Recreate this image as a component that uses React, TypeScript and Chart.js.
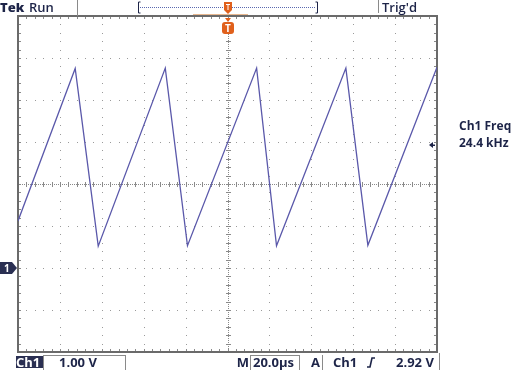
import React, { useEffect, useRef } from "react";
import { Chart, registerables } from "chart.js";

Chart.register(...registerables);

// Waveform samples (time in µs, voltage in V)
const timeUs = [-100, -72.7, -61.7, -29.7, -19.1, 13.9, 23.4, 56.5, 67, 100];
const volts = [1.12, 4.75, 0.52, 4.76, 0.53, 4.76, 0.53, 4.76, 0.54, 4.78];

// Display range: 10 horizontal divisions at 20 µs/div, 8 vertical at 1 V/div
const xRange = [-100, 100];
const yRange = [-2, 6];
const xDivisions = 10;
const yDivisions = 8;
const minorPerDiv = 5;

// Status texts
const headerLeft = ["Tek", "Run"];
const headerRight = "Trig'd";
const footerCh = "Ch1";
const footerScale = "1.00 V";
const footerTimebase = ["M", "20.0µs"];
const footerTrigger = ["A", "Ch1", "2.92 V"];
const measureLabel = ["Ch1 Freq", "24.4 kHz"];
const triggerLevel = 2.92;
const groundLevel = 0;

const TEXT = "#1d2448";
const ORANGE = "#e0601c";
const FONT = "'Open Sans', 'DejaVu Sans', sans-serif";

const scopePlugin = {
  id: "scope",
  beforeDatasetsDraw(chart: any) {
    const { ctx, chartArea, scales } = chart;
    const { left, right, top, bottom } = chartArea;
    const xs = scales.x;
    const ys = scales.y;
    const xStep = (xRange[1] - xRange[0]) / xDivisions;
    const yStep = (yRange[1] - yRange[0]) / yDivisions;
    ctx.save();
    ctx.fillStyle = "#9a9a9a";
    const xMid = (xRange[0] + xRange[1]) / 2;
    const yMid = (yRange[0] + yRange[1]) / 2;
    for (let i = 1; i < xDivisions; i++) {
      const v = xRange[0] + i * xStep;
      if (Math.abs(v - xMid) < 1e-6) continue;
      const px = Math.round(xs.getPixelForValue(v));
      for (let j = 1; j < yDivisions * minorPerDiv; j++) {
        const py = Math.round(ys.getPixelForValue(yRange[0] + (j * yStep) / minorPerDiv));
        ctx.fillRect(px, py, 1, 1);
      }
    }
    for (let i = 1; i < yDivisions; i++) {
      const v = yRange[0] + i * yStep;
      if (Math.abs(v - yMid) < 1e-6) continue;
      const py = Math.round(ys.getPixelForValue(v));
      for (let j = 1; j < xDivisions * minorPerDiv; j++) {
        const px = Math.round(xs.getPixelForValue(xRange[0] + (j * xStep) / minorPerDiv));
        ctx.fillRect(px, py, 1, 1);
      }
    }
    const cx = Math.round(xs.getPixelForValue(xMid)) + 0.5;
    const cy = Math.round(ys.getPixelForValue(yMid)) + 0.5;
    ctx.strokeStyle = "#8a8a8a";
    ctx.lineWidth = 1;
    ctx.setLineDash([1, 1]);
    ctx.beginPath();
    ctx.moveTo(left, cy);
    ctx.lineTo(right, cy);
    ctx.moveTo(cx, top);
    ctx.lineTo(cx, bottom);
    ctx.stroke();
    ctx.setLineDash([]);
    ctx.beginPath();
    for (let j = 1; j < xDivisions * minorPerDiv; j++) {
      const px = Math.round(xs.getPixelForValue(xRange[0] + (j * xStep) / minorPerDiv)) + 0.5;
      ctx.moveTo(px, cy - 2.5);
      ctx.lineTo(px, cy + 2.5);
      ctx.moveTo(px, top);
      ctx.lineTo(px, top + 3);
      ctx.moveTo(px, bottom);
      ctx.lineTo(px, bottom - 3);
    }
    for (let j = 1; j < yDivisions * minorPerDiv; j++) {
      const py = Math.round(ys.getPixelForValue(yRange[0] + (j * yStep) / minorPerDiv)) + 0.5;
      ctx.moveTo(cx - 2.5, py);
      ctx.lineTo(cx + 2.5, py);
      ctx.moveTo(left, py);
      ctx.lineTo(left + 3, py);
      ctx.moveTo(right, py);
      ctx.lineTo(right - 3, py);
    }
    ctx.stroke();
    ctx.strokeStyle = "#6a6a6a";
    ctx.lineWidth = 2;
    ctx.strokeRect(left, top, right - left, bottom - top);
    ctx.restore();
  },
  afterDraw(chart: any) {
    const { ctx, chartArea, scales } = chart;
    const { right, top } = chartArea;
    const xs = scales.x;
    const ys = scales.y;
    const cx = Math.round(xs.getPixelForValue((xRange[0] + xRange[1]) / 2));
    ctx.save();
    ctx.textBaseline = "alphabetic";
    ctx.fillStyle = TEXT;
    // header
    ctx.font = `800 13px ${FONT}`;
    ctx.fillText(headerLeft[0], 0, 12);
    ctx.font = `600 13px ${FONT}`;
    ctx.fillText(headerLeft[1], 29, 12);
    ctx.fillText(headerRight, 382, 12);
    ctx.strokeStyle = "#8a8a8a";
    ctx.lineWidth = 1;
    ctx.beginPath();
    ctx.moveTo(77.5, 0);
    ctx.lineTo(77.5, top);
    ctx.moveTo(378.5, 0);
    ctx.lineTo(378.5, 13);
    ctx.stroke();
    // record bracket
    ctx.strokeStyle = TEXT;
    ctx.lineWidth = 1;
    ctx.beginPath();
    ctx.moveTo(140.5, 2);
    ctx.lineTo(138.5, 2);
    ctx.lineTo(138.5, 13);
    ctx.lineTo(140.5, 13);
    ctx.moveTo(315.5, 2);
    ctx.lineTo(317.5, 2);
    ctx.lineTo(317.5, 13);
    ctx.lineTo(315.5, 13);
    ctx.stroke();
    ctx.strokeStyle = "#5a68b0";
    ctx.setLineDash([1, 1]);
    ctx.beginPath();
    ctx.moveTo(140, 7.5);
    ctx.lineTo(316, 7.5);
    ctx.stroke();
    ctx.setLineDash([]);
    ctx.strokeStyle = "#e8b890";
    ctx.beginPath();
    ctx.moveTo(193, 14.5);
    ctx.lineTo(248, 14.5);
    ctx.stroke();
    // header trigger position marker
    ctx.fillStyle = ORANGE;
    ctx.beginPath();
    ctx.moveTo(cx - 4, 2);
    ctx.lineTo(cx + 4, 2);
    ctx.lineTo(cx + 4, 10);
    ctx.lineTo(cx, 14);
    ctx.lineTo(cx - 4, 10);
    ctx.closePath();
    ctx.fill();
    ctx.fillStyle = "#ffffff";
    ctx.fillRect(cx - 2, 4, 4, 1);
    ctx.fillRect(cx - 0.5, 4, 1, 6);
    // trigger marker under top border
    ctx.fillStyle = ORANGE;
    ctx.beginPath();
    ctx.moveTo(cx - 3, top + 2);
    ctx.lineTo(cx + 3, top + 2);
    ctx.lineTo(cx, top + 6);
    ctx.closePath();
    ctx.fill();
    ctx.beginPath();
    ctx.roundRect(cx - 6, top + 6, 12, 12, 3);
    ctx.fill();
    ctx.fillStyle = "#ffffff";
    ctx.font = `700 10px ${FONT}`;
    ctx.textAlign = "center";
    ctx.fillText("T", cx, top + 16);
    ctx.textAlign = "left";
    // right-side measurement
    ctx.fillStyle = TEXT;
    ctx.font = `700 12px ${FONT}`;
    ctx.fillText(measureLabel[0], 459, 130);
    ctx.fillText(measureLabel[1], 459, 147);
    // trigger level arrow
    const ty = Math.round(ys.getPixelForValue(triggerLevel));
    ctx.beginPath();
    ctx.moveTo(right - 8, ty);
    ctx.lineTo(right - 4, ty - 3);
    ctx.lineTo(right - 4, ty + 3);
    ctx.closePath();
    ctx.fill();
    ctx.fillRect(right - 5, ty - 0.5, 3, 1.5);
    // ground marker
    const gy = Math.round(ys.getPixelForValue(groundLevel));
    ctx.fillStyle = "#2a2f52";
    ctx.beginPath();
    ctx.moveTo(0, gy - 6);
    ctx.lineTo(12, gy - 6);
    ctx.lineTo(17, gy);
    ctx.lineTo(12, gy + 6);
    ctx.lineTo(0, gy + 6);
    ctx.closePath();
    ctx.fill();
    ctx.fillStyle = "#ffffff";
    ctx.font = `700 10px ${FONT}`;
    ctx.fillText("1", 4, gy + 4);
    // footer
    const fb = 367;
    ctx.fillStyle = "#2a2f52";
    ctx.fillRect(16, 356, 27, 12);
    ctx.fillStyle = "#ffffff";
    ctx.font = `700 13px ${FONT}`;
    ctx.fillText(footerCh, 16, fb);
    ctx.strokeStyle = "#8a8a8a";
    ctx.lineWidth = 1;
    ctx.strokeRect(43.5, 355.5, 82, 16);
    ctx.strokeRect(250.5, 355.5, 49, 16);
    ctx.beginPath();
    ctx.moveTo(322.5, 355);
    ctx.lineTo(322.5, 370);
    ctx.moveTo(439.5, 353);
    ctx.lineTo(439.5, 370);
    ctx.stroke();
    ctx.fillStyle = TEXT;
    ctx.font = `700 13px ${FONT}`;
    ctx.fillText(footerScale, 59, fb);
    ctx.textAlign = "right";
    ctx.fillText(footerTimebase[0], 249, fb);
    ctx.textAlign = "left";
    ctx.fillText(footerTimebase[1], 253, fb);
    ctx.fillText(footerTrigger[0], 311, fb);
    ctx.fillText(footerTrigger[1], 333, fb);
    ctx.fillText(footerTrigger[2], 396, fb);
    // rising-edge symbol
    ctx.strokeStyle = TEXT;
    ctx.lineWidth = 1.6;
    ctx.beginPath();
    ctx.moveTo(367, 367);
    ctx.lineTo(370, 367);
    ctx.lineTo(372, 358);
    ctx.lineTo(375, 358);
    ctx.stroke();
    ctx.restore();
  },
};

export default function App() {
  const ref = useRef<HTMLCanvasElement | null>(null);
  useEffect(() => {
    document.body.style.margin = "0";
    const canvas = ref.current;
    if (!canvas) return;
    const chart = new Chart(canvas, {
      type: "line",
      data: {
        datasets: [
          {
            data: timeUs.map((t, i) => ({ x: t, y: volts[i] })),
            borderColor: "#5a58aa",
            borderWidth: 1.3,
            pointRadius: 0,
            tension: 0,
            fill: false,
          },
        ],
      },
      options: {
        responsive: false,
        animation: false,
        devicePixelRatio: 1,
        layout: { padding: { left: 18, right: 83, top: 16, bottom: 18 } },
        plugins: { legend: { display: false }, tooltip: { enabled: false } },
        scales: {
          x: { type: "linear", min: xRange[0], max: xRange[1], display: false },
          y: { type: "linear", min: yRange[0], max: yRange[1], display: false },
        },
      },
      plugins: [scopePlugin],
    });
    return () => chart.destroy();
  }, []);
  return (
    <div style={{ position: "absolute", left: 0, top: 0, width: 520, height: 370, background: "#fff" }}>
      <canvas ref={ref} width={520} height={370} />
    </div>
  );
}
